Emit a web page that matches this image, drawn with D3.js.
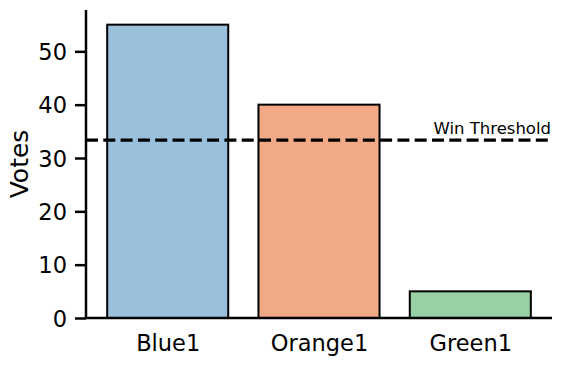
<!DOCTYPE html>
<html>
<head>
<meta charset="utf-8">
<script src="https://cdn.jsdelivr.net/npm/d3@7"></script>
<style>
  body { margin: 0; background: #fff; }
  text { font-family: "DejaVu Sans", sans-serif; fill: #000; }
</style>
</head>
<body>
<script>
// Chart data
var categories = ["Blue1", "Orange1", "Green1"];
var votes = [55, 40, 5];
var barColors = ["#9ac0dc", "#f2aa86", "#99d1a6"];
var yTicks = [0, 10, 20, 30, 40, 50];
var threshold = 100 / 3;
var thresholdLabel = "Win Threshold";

var width = 561, height = 368;
var margin = { top: 10, right: 9, bottom: 50, left: 86 };
var innerW = width - margin.left - margin.right,
    innerH = height - margin.top - margin.bottom;

var svg = d3.select("body").append("svg")
    .attr("width", width)
    .attr("height", height);

var g = svg.append("g")
    .attr("transform", "translate(" + margin.left + "," + margin.top + ")");

// x: matplotlib-like limits around bar positions
var x = d3.scaleLinear().domain([-0.54, 2.54]).range([0, innerW]);
var y = d3.scaleLinear().domain([0, 55 * 1.05]).range([innerH, 0]);
var barW = 0.8;

// bars
g.selectAll(".bar")
    .data(votes)
    .enter()
    .append("rect")
    .attr("class", "bar")
    .attr("x", function(d, i){ return x(i - barW / 2); })
    .attr("y", function(d){ return y(d); })
    .attr("width", function(){ return x(barW) - x(0); })
    .attr("height", function(d){ return y(0) - y(d); })
    .attr("fill", function(d, i){ return barColors[i]; })
    .attr("stroke", "#000")
    .attr("stroke-width", 2);

// threshold line
g.append("line")
    .attr("x1", 0)
    .attr("x2", innerW)
    .attr("y1", y(threshold))
    .attr("y2", y(threshold))
    .attr("stroke", "#000")
    .attr("stroke-width", 3.2)
    .attr("stroke-dasharray", "12,5.3");

g.append("text")
    .attr("x", innerW - 1)
    .attr("y", y(threshold) - 6)
    .attr("text-anchor", "end")
    .style("font-size", "16.5px")
    .text(thresholdLabel);

// y axis
var yAxis = d3.axisLeft(y).tickValues(yTicks).tickSize(11).tickPadding(8);
var yg = g.append("g").call(yAxis);
yg.select(".domain").remove();
yg.selectAll(".tick line").attr("stroke", "#000").attr("stroke-width", 2.5);
yg.selectAll(".tick text").style("font-size", "22.5px").attr("dy", "0.36em");
g.append("line")
    .attr("x1", 0).attr("x2", 0)
    .attr("y1", 0).attr("y2", innerH)
    .attr("stroke", "#000").attr("stroke-width", 2.5);

// x axis
var xAxis = d3.axisBottom(x)
    .tickValues([0, 1, 2])
    .tickFormat(function(d){ return categories[d]; })
    .tickSize(0)
    .tickPadding(17);
var xg = g.append("g")
    .attr("transform", "translate(0," + innerH + ")")
    .call(xAxis);
xg.select(".domain").remove();
xg.selectAll(".tick text").style("font-size", "22.5px");
g.append("line")
    .attr("x1", -1.25).attr("x2", innerW)
    .attr("y1", innerH).attr("y2", innerH)
    .attr("stroke", "#000").attr("stroke-width", 2.5);

// y label
g.append("text")
    .attr("transform", "translate(" + (-58) + "," + (innerH / 2) + ") rotate(-90)")
    .attr("text-anchor", "middle")
    .style("font-size", "25px")
    .text("Votes");
</script>
</body>
</html>
